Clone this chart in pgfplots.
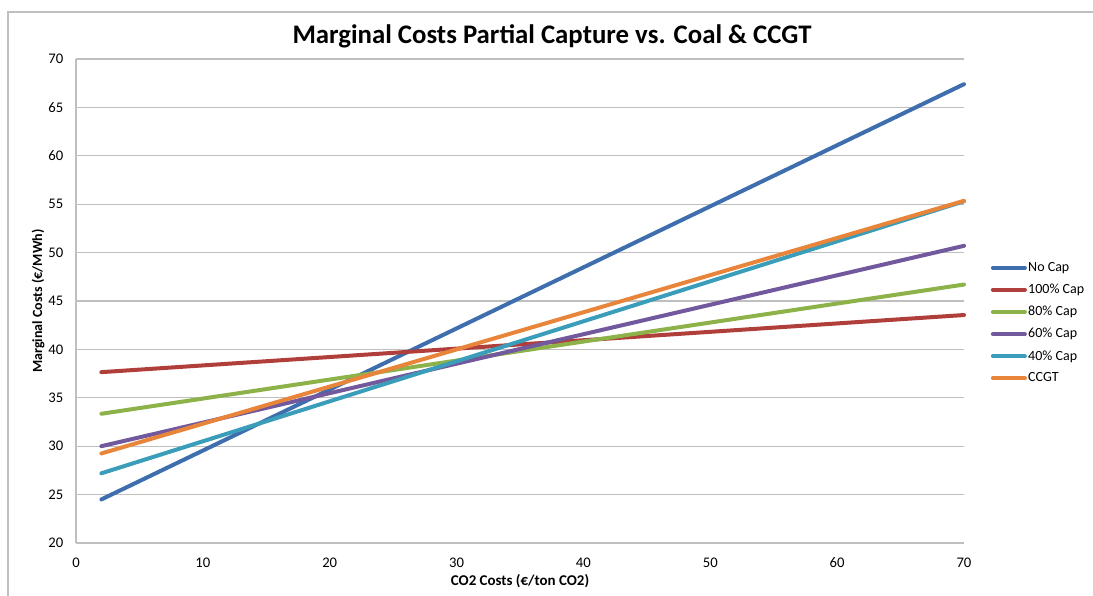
\documentclass[border=0pt]{standalone}
\usepackage{pgfplots}
\pgfplotsset{compat=1.18}
\usepackage{fontspec}
\setmainfont{Carlito}
\definecolor{cNo}{HTML}{3E6EAE}
\definecolor{c100}{HTML}{B03E3A}
\definecolor{c80}{HTML}{8EB24A}
\definecolor{c60}{HTML}{72589C}
\definecolor{c40}{HTML}{3A9DB9}
\definecolor{cCC}{HTML}{E8853A}
\definecolor{gridc}{HTML}{BFBFBF}
\begin{document}
\begin{tikzpicture}[x=1pt,y=1pt]
\begin{axis}[
  at={(57pt,39.75pt)}, anchor=south west,
  scale only axis, width=666pt, height=363pt,
  xmin=0, xmax=70, ymin=20, ymax=70,
  xtick={0,10,...,70}, ytick={20,25,...,70},
  ymajorgrids, grid style={gridc, line width=0.8pt},
  axis x line*=bottom, axis y line*=left,
  axis line style={gridc, line width=0.8pt, -},
  major tick length=0pt,
  tick label style={font=\fontsize{11}{12}\selectfont},
  /pgf/number format/assume math mode=true,
  xticklabel style={yshift=-7.5pt},
  yticklabel style={xshift=-6pt},
  xlabel={\bfseries CO2 Costs (€/ton CO2)},
  ylabel={\bfseries Marginal Costs (€/MWh)},
  label style={font=\fontsize{10.5}{12}\selectfont},
  xlabel style={yshift=2pt, font=\fontsize{11.2}{12}\selectfont},
  ylabel style={yshift=-4pt},
  legend style={at={(1.0255,0.592)}, anchor=north west, draw=none, fill=none,
    font=\fontsize{10.5}{12}\selectfont, row sep=4pt,
    legend cell align=left, nodes={inner xsep=1pt}},
  legend image code/.code={\draw[#1, line width=3pt] (0pt,0pt) -- (24pt,0pt);},
  every axis plot/.append style={line width=3pt, line cap=round},
  clip=false,
]
\addplot[color=cNo] coordinates {(2,24.5) (70,67.4)};
\addlegendentry{No Cap}
\addplot[color=c100] coordinates {(2,37.65) (70,43.55)};
\addlegendentry{100\% Cap}
\addplot[color=c80] coordinates {(2,33.35) (70,46.7)};
\addlegendentry{80\% Cap}
\addplot[color=c60] coordinates {(2,30.0) (70,50.7)};
\addlegendentry{60\% Cap}
\addplot[color=c40] coordinates {(2,27.2) (70,55.3)};
\addlegendentry{40\% Cap}
\addplot[color=cCC] coordinates {(2,29.25) (70,55.35)};
\addlegendentry{CCGT}
\end{axis}
\draw[gridc, line width=1pt] (6,-5) -- (6,438) -- (830,438);
\node[font=\fontsize{20.1}{22}\selectfont\bfseries] at (414,420) {Marginal Costs Partial Capture vs. Coal \& CCGT};
\pgfresetboundingbox
\path[use as bounding box] (0,0) rectangle (819.75,447);
\end{tikzpicture}
\end{document}
